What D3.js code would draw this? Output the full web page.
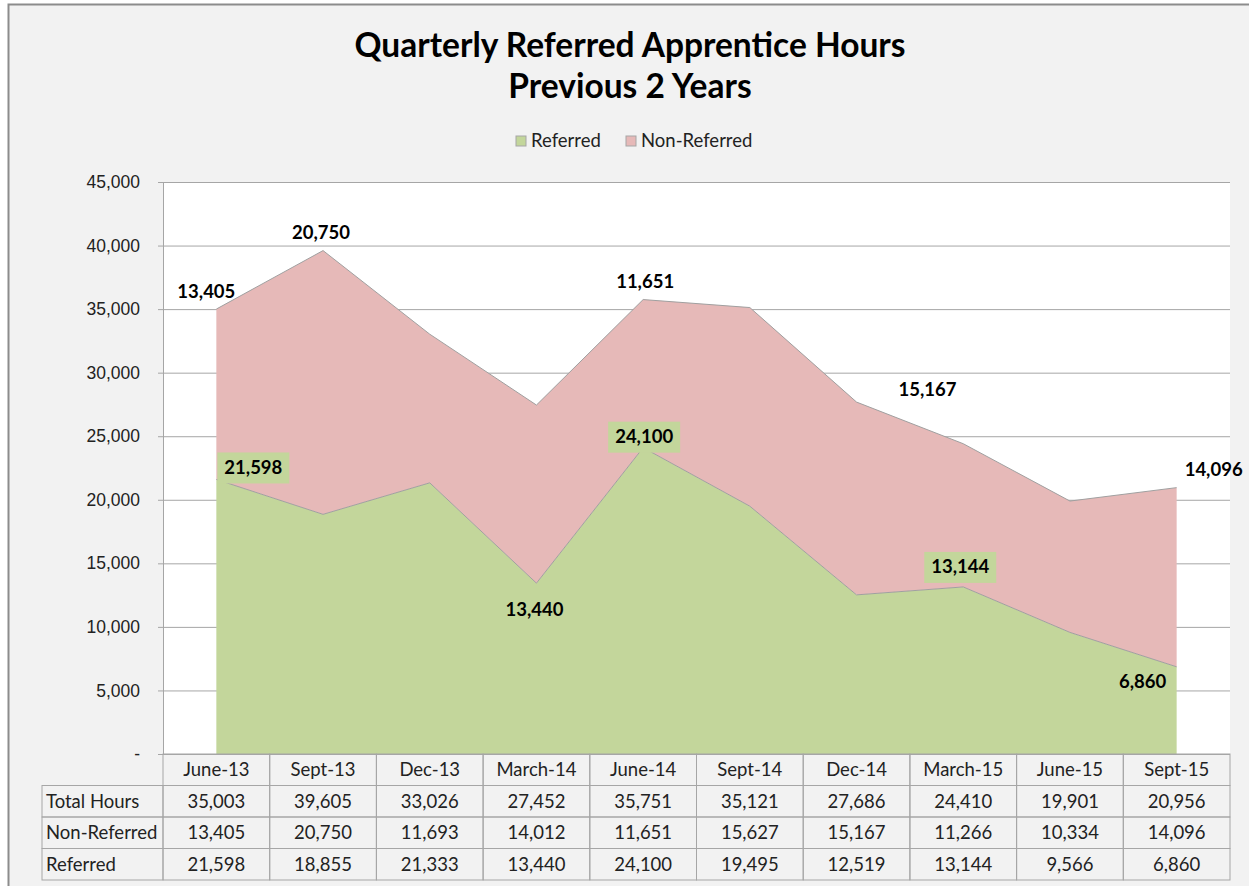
<!DOCTYPE html>
<html>
<head>
<meta charset="utf-8">
<script src="https://cdn.jsdelivr.net/npm/d3@7"></script>
<style>
	body { margin: 0; background: #fff; }
	svg { display: block; font-family: Lato, "Open Sans", sans-serif; }
</style>
</head>
<body>
<div id="chart"></div>
<script>
const quarters = ["June-13", "Sept-13", "Dec-13", "March-14", "June-14", "Sept-14", "Dec-14", "March-15", "June-15", "Sept-15"];
const totalHours = [35003, 39605, 33026, 27452, 35751, 35121, 27686, 24410, 19901, 20956];
const nonReferred = [13405, 20750, 11693, 14012, 11651, 15627, 15167, 11266, 10334, 14096];
const referred = [21598, 18855, 21333, 13440, 24100, 19495, 12519, 13144, 9566, 6860];
const yTicks = [0, 5000, 10000, 15000, 20000, 25000, 30000, 35000, 40000, 45000];
const seriesNames = ["Referred", "Non-Referred"];
const tableRows = ["Total Hours", "Non-Referred", "Referred"];

// labels shown on the chart (series, index) with placement offsets
const labelSpots = [
	{s: "Non-Referred", i: 0, dx: -10, dy: -18, box: false},
	{s: "Non-Referred", i: 1, dx: -2, dy: -18, box: false},
	{s: "Non-Referred", i: 4, dx: 2, dy: -18, box: false},
	{s: "Non-Referred", i: 6, dx: 71, dy: -13, box: false},
	{s: "Non-Referred", i: 9, dx: 37, dy: -18, box: false},
	{s: "Referred", i: 0, dx: 37, dy: -12, box: true},
	{s: "Referred", i: 3, dx: -2, dy: 26, box: false},
	{s: "Referred", i: 4, dx: 1, dy: -11, box: true},
	{s: "Referred", i: 7, dx: -3, dy: -20, box: true},
	{s: "Referred", i: 9, dx: -34, dy: 15, box: false}
];

const colors = {"Referred": "#c3d69b", "Non-Referred": "#e6b9b8"};
const fmt = d3.format(",");

const W = 1249, H = 886;
const plot = {left: 163, right: 1230, top: 182, bottom: 754};
const rowH = 31.5, labelLeft = 42;

const svg = d3.select("#chart").append("svg")
	.attr("width", W).attr("height", H);

// chart background + border
svg.append("rect")
	.attr("x", 8.5).attr("y", 4.5)
	.attr("width", W).attr("height", H)
	.attr("fill", "#f2f2f2").attr("stroke", "#8c8c8c").attr("stroke-width", 2);

svg.append("rect")
	.attr("x", plot.left).attr("y", plot.top)
	.attr("width", plot.right - plot.left).attr("height", plot.bottom - plot.top)
	.attr("fill", "#fff");

// title
svg.append("text")
	.attr("text-anchor", "middle")
	.attr("font-size", 33.5).attr("font-weight", "bold").attr("fill", "#000")
	.selectAll("tspan")
	.data(["Quarterly Referred Apprentice Hours", "Previous 2 Years"])
	.enter().append("tspan")
	.attr("x", 630)
	.attr("y", (d, i) => 57 + i * 41)
	.text(d => d);

// scales
const x = d3.scalePoint().domain(quarters).range([plot.left, plot.right]).padding(0.5);
const band = d3.scaleBand().domain(quarters).range([plot.left, plot.right]);
const y = d3.scaleLinear().domain([0, 45000]).range([plot.bottom, plot.top]);

// y axis with gridlines
svg.append("g")
	.attr("transform", "translate(" + plot.left + ",0)")
	.call(d3.axisLeft(y)
		.tickValues(yTicks)
		.tickSizeInner(-(plot.right - plot.left))
		.tickSizeOuter(0)
		.tickPadding(23)
		.tickFormat(d => d === 0 ? "-" : fmt(d)))
	.call(g => g.select(".domain").attr("stroke", "#a6a6a6"))
	.call(g => g.selectAll(".tick line").attr("x1", -5).attr("stroke", "#a6a6a6"))
	.call(g => g.selectAll(".tick text").attr("font-size", 17.5).attr("fill", "#222"));

// stacked areas
const rows = quarters.map((q, i) => ({q: q, "Referred": referred[i], "Non-Referred": nonReferred[i]}));
const stack = d3.stack().keys(seriesNames)(rows);

const area = d3.area()
	.x(d => x(d.data.q))
	.y0(d => y(d[0]))
	.y1(d => y(d[1]));
const topLine = d3.line()
	.x(d => x(d.data.q))
	.y(d => y(d[1]));

svg.selectAll(".area")
	.data(stack)
	.enter().append("path")
	.attr("class", "area")
	.attr("fill", d => colors[d.key])
	.attr("d", area);

svg.selectAll(".topline")
	.data(stack)
	.enter().append("path")
	.attr("fill", "none")
	.attr("stroke", "#a0a0a0")
	.attr("stroke-width", 1)
	.attr("d", topLine);

// data labels
const labelsG = svg.append("g");
labelSpots.forEach(l => {
	const layer = stack.find(s => s.key === l.s);
	const pt = layer[l.i];
	const cx = x(quarters[l.i]) + l.dx;
	const cy = y(pt[1]) + l.dy;
	const value = l.s === "Referred" ? referred[l.i] : nonReferred[l.i];
	if (l.box) {
		labelsG.append("rect")
			.attr("x", cx - 36).attr("y", cy - 15)
			.attr("width", 72).attr("height", 31)
			.attr("fill", colors["Referred"]);
	}
	labelsG.append("text")
		.attr("x", cx).attr("y", cy)
		.attr("dy", "0.35em")
		.attr("text-anchor", "middle")
		.attr("font-size", 18.5).attr("font-weight", "bold").attr("fill", "#000")
		.text(fmt(value));
});

// legend
const legend = svg.append("g").attr("font-size", 18.5);
const legendItems = [{k: "Referred", x: 516}, {k: "Non-Referred", x: 626}];
legendItems.forEach(it => {
	legend.append("rect")
		.attr("x", it.x).attr("y", 136)
		.attr("width", 10).attr("height", 10)
		.attr("fill", colors[it.k]).attr("stroke", "#a6a6a6");
	legend.append("text")
		.attr("x", it.x + 15).attr("y", 141)
		.attr("dy", "0.35em")
		.attr("fill", "#222")
		.text(it.k);
});

// data table
const tableG = svg.append("g").attr("font-size", 18.5).attr("fill", "#222");
const tableStroke = "#a6a6a6";
const tableTop = plot.bottom;
const tableData = [totalHours, nonReferred, referred];

// header row cells
quarters.forEach(q => {
	tableG.append("rect")
		.attr("x", band(q)).attr("y", tableTop)
		.attr("width", band.bandwidth()).attr("height", rowH)
		.attr("fill", "none").attr("stroke", tableStroke);
	tableG.append("text")
		.attr("x", x(q)).attr("y", tableTop + rowH / 2)
		.attr("dy", "0.35em").attr("text-anchor", "middle")
		.text(q);
});

tableRows.forEach((name, r) => {
	const ry = tableTop + rowH * (r + 1);
	tableG.append("rect")
		.attr("x", labelLeft).attr("y", ry)
		.attr("width", plot.left - labelLeft).attr("height", rowH)
		.attr("fill", "none").attr("stroke", tableStroke);
	tableG.append("text")
		.attr("x", labelLeft + 4).attr("y", ry + rowH / 2)
		.attr("dy", "0.35em")
		.text(name);
	quarters.forEach((q, i) => {
		tableG.append("rect")
			.attr("x", band(q)).attr("y", ry)
			.attr("width", band.bandwidth()).attr("height", rowH)
			.attr("fill", "none").attr("stroke", tableStroke);
		tableG.append("text")
			.attr("x", x(q)).attr("y", ry + rowH / 2)
			.attr("dy", "0.35em").attr("text-anchor", "middle")
			.text(fmt(tableData[r][i]));
	});
});
</script>
</body>
</html>
